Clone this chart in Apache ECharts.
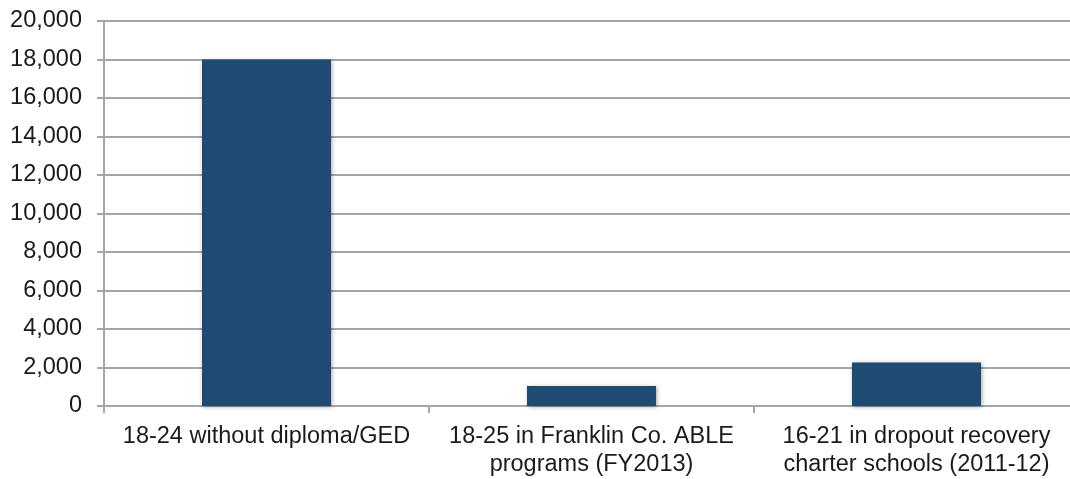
<!DOCTYPE html>
<html>
<head>
<meta charset="utf-8">
<script src="https://cdn.jsdelivr.net/npm/echarts@6/dist/echarts.min.js"></script>
<style>html,body{margin:0;padding:0;background:#fff;overflow:hidden;width:1070px;height:479px;}#c{width:1084px;height:479px;}</style>
</head>
<body>
<div id="c"></div>
<script>
const categories = [
  "18-24 without diploma/GED",
  "18-25 in Franklin Co. ABLE\nprograms (FY2013)",
  "16-21 in dropout recovery\ncharter schools (2011-12)"
];
const values = [18000, 1040, 2260];
const yMin = 0, yMax = 20000, yStep = 2000;

const chart = echarts.init(document.getElementById('c'), null, {renderer: 'canvas'});
chart.setOption({
  animation: false,
  backgroundColor: '#ffffff',
  grid: {left: 104, top: 21, width: 975, height: 386, containLabel: false},
  xAxis: {
    type: 'category',
    data: categories,
    axisLine: {show: true, lineStyle: {color: '#a6a6a6', width: 2}},
    axisTick: {show: true, alignWithLabel: false, length: 7, lineStyle: {color: '#a6a6a6', width: 2}},
    axisLabel: {color: '#1a1a1a', fontFamily: 'Liberation Sans', fontSize: 23.5, lineHeight: 28, margin: 17, interval: 0}
  },
  yAxis: {
    type: 'value',
    min: yMin, max: yMax, interval: yStep,
    axisLine: {show: true, lineStyle: {color: '#a6a6a6', width: 2}},
    axisTick: {show: true, length: 7, lineStyle: {color: '#a6a6a6', width: 2}},
    splitLine: {show: true, lineStyle: {color: '#a6a6a6', width: 2}},
    axisLabel: {
      color: '#1a1a1a', fontFamily: 'Liberation Sans', fontSize: 23.5, margin: 22,
      formatter: v => v.toLocaleString('en-US')
    }
  },
  series: [{
    type: 'bar',
    data: values,
    barWidth: 129,
    itemStyle: {
      color: '#1f4a72',
      shadowBlur: 4, shadowColor: 'rgba(0,0,0,0.35)', shadowOffsetX: 1, shadowOffsetY: 1
    }
  }]
});
</script>
</body>
</html>
